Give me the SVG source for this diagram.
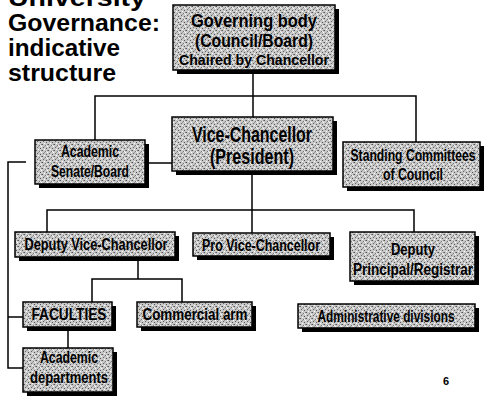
<svg xmlns="http://www.w3.org/2000/svg" width="486" height="396" viewBox="0 0 486 396">
<defs>
<pattern id="stip" width="6" height="6" patternUnits="userSpaceOnUse">
<rect width="6" height="6" fill="#c8c8c8"/>
<rect x="0" y="0" width="1" height="1" fill="#555"/>
<rect x="3" y="1" width="1" height="1" fill="#777"/>
<rect x="1" y="3" width="1" height="1" fill="#666"/>
<rect x="4" y="4" width="1" height="1" fill="#555"/>
<rect x="5" y="0" width="1" height="1" fill="#888"/>
<rect x="2" y="2" width="1" height="1" fill="#999"/>
<rect x="5" y="2" width="1" height="1" fill="#fff"/>
<rect x="2" y="5" width="1" height="1" fill="#fff"/>
<rect x="4" y="1" width="1" height="1" fill="#eee"/>
</pattern>
</defs>
<style>
.title{font-family:"Liberation Sans",Arial,sans-serif;font-weight:bold;font-size:23px;fill:#000}
.box{fill:url(#stip);stroke:#000;stroke-width:1.5}
.sh{fill:#000}
.t{font-family:"Liberation Sans Narrow","Liberation Sans",Arial,sans-serif;font-weight:bold;font-size:16px;fill:#000;text-anchor:middle}
.big{font-size:22px}
.mid{font-size:18px}
.sm{font-size:14px}
.c{fill:none;stroke:#000;stroke-width:1.5}
</style>
<rect width="486" height="396" fill="#fff"/>
<g id="title">
<text class="title" x="8" y="6" textLength="138" lengthAdjust="spacingAndGlyphs">University</text>
<text class="title" x="8" y="31" textLength="152" lengthAdjust="spacingAndGlyphs">Governance:</text>
<text class="title" x="8" y="56" textLength="112" lengthAdjust="spacingAndGlyphs">indicative</text>
<text class="title" x="8" y="81" textLength="108" lengthAdjust="spacingAndGlyphs">structure</text>
</g>
<g id="connectors">
<path class="c" d="M253 72V117"/>
<path class="c" d="M95 140V96H416V142"/>
<path class="c" d="M149 163H172"/>
<path class="c" d="M252 173V233"/>
<path class="c" d="M47 232V210H414V232"/>
<path class="c" d="M138 259V279"/>
<path class="c" d="M92 302V279H182V302"/>
<path class="c" d="M68 329V348"/>
<path class="c" d="M26 162H8V368H23"/>
<path class="c" d="M8 317H23"/>
</g>
<g id="governing">
<rect class="sh" x="177" y="9" width="162" height="65"/>
<rect class="box" x="173" y="5" width="162" height="65"/>
<text class="t mid" x="254" y="27" textLength="126" lengthAdjust="spacingAndGlyphs">Governing body</text>
<text class="t mid" x="254" y="47" textLength="118" lengthAdjust="spacingAndGlyphs">(Council/Board)</text>
<text class="t sm" x="254" y="65" textLength="150" lengthAdjust="spacingAndGlyphs">Chaired by Chancellor</text>
</g>
<g id="vc">
<rect class="sh" x="176" y="121" width="161" height="54"/>
<rect class="box" x="172" y="117" width="161" height="54"/>
<text class="t big" x="252" y="142" textLength="120" lengthAdjust="spacingAndGlyphs">Vice-Chancellor</text>
<text class="t big" x="252" y="164" textLength="84" lengthAdjust="spacingAndGlyphs">(President)</text>
</g>
<g id="senate">
<rect class="sh" x="39" y="144" width="110" height="44"/>
<rect class="box" x="35" y="140" width="110" height="44"/>
<text class="t" x="90" y="157" textLength="58" lengthAdjust="spacingAndGlyphs">Academic</text>
<text class="t" x="90" y="177" textLength="78" lengthAdjust="spacingAndGlyphs">Senate/Board</text>
</g>
<g id="standing">
<rect class="sh" x="347" y="146" width="137" height="45"/>
<rect class="box" x="343" y="142" width="137" height="45"/>
<text class="t" x="413" y="161" textLength="125" lengthAdjust="spacingAndGlyphs">Standing Committees</text>
<text class="t" x="413" y="180" textLength="60" lengthAdjust="spacingAndGlyphs">of Council</text>
</g>
<g id="dvc">
<rect class="sh" x="19" y="236" width="160" height="25"/>
<rect class="box" x="15" y="232" width="160" height="25"/>
<text class="t" x="96" y="250" textLength="143" lengthAdjust="spacingAndGlyphs">Deputy Vice-Chancellor</text>
</g>
<g id="pvc">
<rect class="sh" x="197" y="237" width="137" height="23"/>
<rect class="box" x="193" y="233" width="137" height="23"/>
<text class="t" x="261" y="251" textLength="118" lengthAdjust="spacingAndGlyphs">Pro Vice-Chancellor</text>
</g>
<g id="dp">
<rect class="sh" x="354" y="236" width="125" height="49"/>
<rect class="box" x="350" y="232" width="125" height="49"/>
<text class="t" x="413" y="255" textLength="44" lengthAdjust="spacingAndGlyphs">Deputy</text>
<text class="t" x="413" y="275" textLength="120" lengthAdjust="spacingAndGlyphs">Principal/Registrar</text>
</g>
<g id="faculties">
<rect class="sh" x="27" y="306" width="89" height="25"/>
<rect class="box" x="23" y="302" width="89" height="25"/>
<text class="t" x="69" y="320" textLength="75" lengthAdjust="spacingAndGlyphs">FACULTIES</text>
</g>
<g id="commercial">
<rect class="sh" x="141" y="306" width="115" height="25"/>
<rect class="box" x="137" y="302" width="115" height="25"/>
<text class="t" x="195" y="320" textLength="105" lengthAdjust="spacingAndGlyphs">Commercial arm</text>
</g>
<g id="departments">
<rect class="sh" x="27" y="352" width="90" height="44"/>
<rect class="box" x="23" y="348" width="90" height="44"/>
<text class="t" x="69" y="363" textLength="58" lengthAdjust="spacingAndGlyphs">Academic</text>
<text class="t" x="69" y="383" textLength="78" lengthAdjust="spacingAndGlyphs">departments</text>
</g>
<g id="admin">
<rect class="sh" x="302" y="308" width="177" height="24"/>
<rect class="box" x="298" y="304" width="177" height="24"/>
<text class="t" x="386" y="322" textLength="137" lengthAdjust="spacingAndGlyphs">Administrative divisions</text>
</g>
<text x="443" y="385" font-family="Liberation Sans,Arial,sans-serif" font-weight="bold" font-size="11">6</text>
</svg>
